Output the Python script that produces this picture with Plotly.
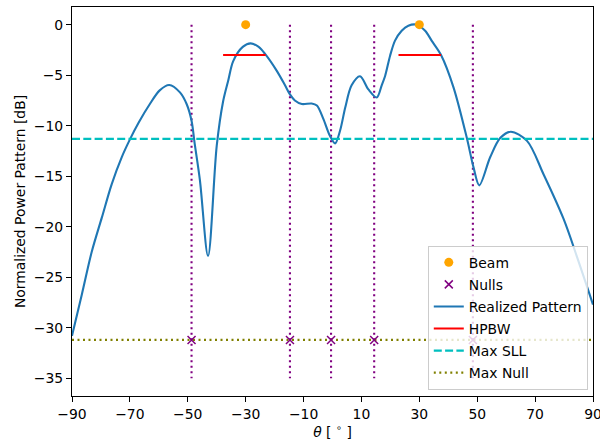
import plotly.graph_objects as go

# ---- data ----
theta_pattern = [-90, -86.6, -83.2, -79.7, -76.3, -72.8, -69.9, -67.0, -63.1, -59.7,
                 -56.4, -52.7, -50.4, -48.7, -47.6, -45.8, -43.0, -40.0, -37.8, -36.0,
                 -34.3, -31.0, -28.3, -25.5, -23.1, -19.3, -16.4, -14.7, -13.0, -10.6,
                 -7.2, -5.4, -3.2, -0.9, 0.9, 2.6, 4.4, 6.6, 9.5, 12.4,
                 15.3, 17.0, 18.2, 19.9, 21.6, 23.9, 26.2, 29.1, 32.0, 34.3,
                 37.5, 41.8, 46.4, 48.7, 50.7, 54.5, 58.0, 61.6, 67.2, 72.9,
                 79.8, 84.5, 90]
pattern_db = [-30.8, -26.7, -22.5, -19.1, -15.8, -13.1, -11.3, -9.7, -7.85, -6.5,
              -5.97, -6.7, -7.85, -9.5, -11.8, -15.4, -22.9, -12.0, -7.6, -5.5,
              -3.6, -2.2, -1.85, -2.2, -2.97, -4.55, -6.0, -6.9, -7.5, -7.85,
              -7.8, -8.0, -9.3, -11.0, -11.75, -10.5, -8.2, -6.0, -5.1, -6.4,
              -7.2, -6.0, -5.05, -3.07, -1.58, -0.6, -0.1, 0.0, -0.6, -1.6,
              -3.0, -6.2, -11.2, -14.1, -15.9, -13.1, -11.2, -10.6, -11.5, -14.8,
              -19.2, -23.0, -27.7]

beam_theta = [-30, 30]
beam_db = [0, 0]

null_theta = [-48.7, -14.7, -0.5, 14.4, 48.5]
max_null_db = -31.2
null_line_top = 0
null_line_bottom = -35

hpbw_ranges = [(-37.8, -23.1), (22.8, 37.5)]
hpbw_db = -3

max_sll_db = -11.3

x_ticks = [-90, -70, -50, -30, -10, 10, 30, 50, 70, 90]
y_ticks = [0, -5, -10, -15, -20, -25, -30, -35]
x_range = [-90, 90]
y_range = [-36.75, 1.75]

FONT = "DejaVu Sans"
FS = 13.9

fig = go.Figure()

# vertical null lines (not in legend)
vx, vy = [], []
for t in null_theta:
    vx += [t, t, None]
    vy += [null_line_top, null_line_bottom, None]
fig.add_trace(go.Scatter(x=vx, y=vy, mode="lines", showlegend=False,
                         line=dict(color="purple", width=2.1, dash="2px,3.5px"),
                         hoverinfo="skip"))

fig.add_trace(go.Scatter(x=theta_pattern, y=pattern_db, mode="lines",
                         name="Realized Pattern", legendrank=3, legendgroup="c",
                         line=dict(color="#1f77b4", width=2.1, shape="spline", smoothing=0.9)))

hx, hy = [], []
for a, b in hpbw_ranges:
    hx += [a, b, None]
    hy += [hpbw_db, hpbw_db, None]
fig.add_trace(go.Scatter(x=hx, y=hy, mode="lines", name="HPBW", legendrank=4,
                         legendgroup="d", line=dict(color="red", width=2.1)))

fig.add_trace(go.Scatter(x=x_range, y=[max_sll_db, max_sll_db], mode="lines",
                         name="Max SLL", legendrank=5, legendgroup="e",
                         line=dict(color="#00BFBF", width=2.1, dash="8px,3.3px")))

fig.add_trace(go.Scatter(x=x_range, y=[max_null_db, max_null_db], mode="lines",
                         name="Max Null", legendrank=6, legendgroup="f",
                         line=dict(color="olive", width=2.1, dash="2px,3.5px")))

fig.add_trace(go.Scatter(x=beam_theta, y=beam_db, mode="markers", name="Beam",
                         legendrank=1, legendgroup="a",
                         marker=dict(color="orange", size=9, symbol="circle")))

fig.add_trace(go.Scatter(x=null_theta, y=[max_null_db] * len(null_theta), mode="markers",
                         name="Nulls", legendrank=2, legendgroup="b",
                         marker=dict(color="purple", size=8, symbol="x-thin",
                                     line=dict(color="purple", width=1.5))))

axis_common = dict(showline=True, mirror=True, linecolor="black", linewidth=1.1,
                   ticks="outside", ticklen=5, tickwidth=1.1, tickcolor="black",
                   showgrid=False, zeroline=False, automargin=False,
                   ticklabeloverflow="allow",
                   tickfont=dict(family=FONT, size=FS, color="black"))

fig.update_layout(
    width=600, height=445,
    margin=dict(l=72, r=7, t=7, b=49),
    paper_bgcolor="white", plot_bgcolor="white",
    font=dict(family=FONT, size=FS, color="black"),
    xaxis=dict(range=x_range, tickvals=x_ticks,
               title=dict(text="<i>θ</i> [ <sup>∘</sup> ]", font=dict(family=FONT, size=FS),
                          standoff=2),
               **axis_common),
    yaxis=dict(range=y_range, tickvals=y_ticks,
               title=dict(text="Normalized Power Pattern [dB]", font=dict(family=FONT, size=FS),
                          standoff=4),
               **axis_common),
    legend=dict(x=0.99, y=0.016, xanchor="right", yanchor="bottom",
                bgcolor="rgba(255,255,255,0.8)", bordercolor="#cccccc", borderwidth=1,
                font=dict(family=FONT, size=FS, color="black"),
                tracegroupgap=1, traceorder="grouped",
                entrywidth=128, entrywidthmode="pixels"),
)

# remove the default 8px page margin so the 600x445 figure fills the window
fig.write_html("out.html",
               config={"displayModeBar": False},
               post_script="document.body.style.margin='0';document.body.style.overflow='hidden';")
